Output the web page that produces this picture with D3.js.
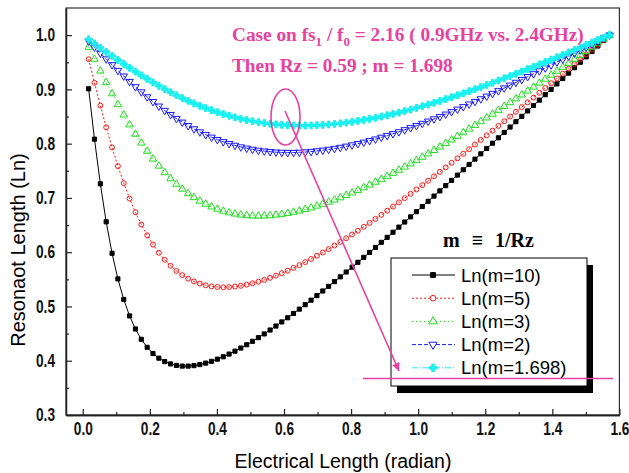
<!DOCTYPE html>
<html>
<head>
<meta charset="utf-8">
<script src="https://cdn.jsdelivr.net/npm/d3@7"></script>
<style>
    body { margin: 0; background: #fff; }
    svg { display: block; }
</style>
</head>
<body>
<div id="chart"></div>
<script>
    // electrical length theta1 in radian (1 degree steps)
    var electricalLength = [
        0.0175, 0.0349, 0.0524, 0.0698, 0.0873, 0.1047, 0.1222, 0.1396, 0.1571, 0.1745,
        0.1920, 0.2094, 0.2269, 0.2443, 0.2618, 0.2793, 0.2967, 0.3142, 0.3316, 0.3491,
        0.3665, 0.3840, 0.4014, 0.4189, 0.4363, 0.4538, 0.4712, 0.4887, 0.5061, 0.5236,
        0.5411, 0.5585, 0.5760, 0.5934, 0.6109, 0.6283, 0.6458, 0.6632, 0.6807, 0.6981,
        0.7156, 0.7330, 0.7505, 0.7679, 0.7854, 0.8029, 0.8203, 0.8378, 0.8552, 0.8727,
        0.8901, 0.9076, 0.9250, 0.9425, 0.9599, 0.9774, 0.9948, 1.0123, 1.0297, 1.0472,
        1.0647, 1.0821, 1.0996, 1.1170, 1.1345, 1.1519, 1.1694, 1.1868, 1.2043, 1.2217,
        1.2392, 1.2566, 1.2741, 1.2915, 1.3090, 1.3265, 1.3439, 1.3614, 1.3788, 1.3963,
        1.4137, 1.4312, 1.4486, 1.4661, 1.4835, 1.5010, 1.5184, 1.5359, 1.5533, 1.5708
    ];

    var lnM10 = [
        0.9011, 0.8083, 0.7260, 0.6560, 0.5980, 0.5508, 0.5129, 0.4826, 0.4585, 0.4395,
        0.4247, 0.4133, 0.4047, 0.3984, 0.3941, 0.3914, 0.3901, 0.3901, 0.3910, 0.3929,
        0.3956, 0.3989, 0.4029, 0.4073, 0.4123, 0.4176, 0.4234, 0.4295, 0.4358, 0.4425,
        0.4494, 0.4566, 0.4639, 0.4715, 0.4792, 0.4871, 0.4951, 0.5033, 0.5116, 0.5200,
        0.5285, 0.5371, 0.5458, 0.5546, 0.5635, 0.5724, 0.5814, 0.5905, 0.5996, 0.6088,
        0.6181, 0.6274, 0.6368, 0.6462, 0.6556, 0.6651, 0.6746, 0.6842, 0.6938, 0.7034,
        0.7130, 0.7227, 0.7324, 0.7421, 0.7519, 0.7617, 0.7715, 0.7813, 0.7911, 0.8009,
        0.8108, 0.8207, 0.8306, 0.8405, 0.8504, 0.8603, 0.8703, 0.8802, 0.8902, 0.9001,
        0.9101, 0.9201, 0.9300, 0.9400, 0.9500, 0.9600, 0.9700, 0.9800, 0.9900, 1.0000
    ];

    var lnM5 = [
        0.9557, 0.9122, 0.8702, 0.8303, 0.7930, 0.7586, 0.7273, 0.6989, 0.6736, 0.6511,
        0.6313, 0.6140, 0.5989, 0.5859, 0.5749, 0.5655, 0.5577, 0.5513, 0.5461, 0.5421,
        0.5391, 0.5371, 0.5359, 0.5354, 0.5357, 0.5366, 0.5381, 0.5402, 0.5427, 0.5456,
        0.5490, 0.5528, 0.5569, 0.5613, 0.5660, 0.5710, 0.5763, 0.5818, 0.5875, 0.5934,
        0.5995, 0.6058, 0.6123, 0.6189, 0.6257, 0.6326, 0.6396, 0.6468, 0.6540, 0.6614,
        0.6689, 0.6765, 0.6841, 0.6919, 0.6997, 0.7076, 0.7156, 0.7236, 0.7317, 0.7399,
        0.7481, 0.7563, 0.7647, 0.7730, 0.7814, 0.7899, 0.7984, 0.8069, 0.8154, 0.8240,
        0.8327, 0.8413, 0.8500, 0.8587, 0.8674, 0.8762, 0.8849, 0.8937, 0.9025, 0.9113,
        0.9202, 0.9290, 0.9379, 0.9467, 0.9556, 0.9645, 0.9733, 0.9822, 0.9911, 1.0000
    ];

    var lnM3 = [
        0.9778, 0.9558, 0.9341, 0.9128, 0.8922, 0.8722, 0.8531, 0.8349, 0.8176, 0.8014,
        0.7861, 0.7719, 0.7588, 0.7467, 0.7356, 0.7255, 0.7164, 0.7081, 0.7008, 0.6943,
        0.6886, 0.6836, 0.6794, 0.6758, 0.6728, 0.6706, 0.6688, 0.6676, 0.6669, 0.6667,
        0.6669, 0.6675, 0.6686, 0.6700, 0.6717, 0.6738, 0.6762, 0.6789, 0.6819, 0.6852,
        0.6887, 0.6924, 0.6963, 0.7005, 0.7048, 0.7094, 0.7141, 0.7190, 0.7240, 0.7292,
        0.7345, 0.7400, 0.7456, 0.7513, 0.7571, 0.7630, 0.7690, 0.7752, 0.7814, 0.7877,
        0.7941, 0.8006, 0.8071, 0.8137, 0.8204, 0.8271, 0.8339, 0.8408, 0.8477, 0.8546,
        0.8616, 0.8687, 0.8758, 0.8829, 0.8900, 0.8972, 0.9044, 0.9117, 0.9190, 0.9263,
        0.9336, 0.9409, 0.9483, 0.9556, 0.9630, 0.9704, 0.9778, 0.9852, 0.9926, 1.0000
    ];

    var lnM2 = [
        0.9889, 0.9778, 0.9668, 0.9560, 0.9453, 0.9348, 0.9245, 0.9144, 0.9047, 0.8953,
        0.8862, 0.8774, 0.8691, 0.8611, 0.8535, 0.8463, 0.8395, 0.8331, 0.8272, 0.8216,
        0.8165, 0.8118, 0.8074, 0.8035, 0.8000, 0.7968, 0.7939, 0.7915, 0.7895, 0.7877,
        0.7863, 0.7852, 0.7844, 0.7839, 0.7836, 0.7837, 0.7841, 0.7846, 0.7855, 0.7866,
        0.7879, 0.7894, 0.7911, 0.7930, 0.7952, 0.7975, 0.8000, 0.8026, 0.8055, 0.8084,
        0.8116, 0.8149, 0.8183, 0.8218, 0.8255, 0.8293, 0.8332, 0.8372, 0.8414, 0.8456,
        0.8499, 0.8543, 0.8588, 0.8634, 0.8680, 0.8728, 0.8776, 0.8825, 0.8874, 0.8924,
        0.8974, 0.9025, 0.9077, 0.9129, 0.9181, 0.9234, 0.9287, 0.9341, 0.9395, 0.9449,
        0.9503, 0.9558, 0.9613, 0.9668, 0.9723, 0.9778, 0.9833, 0.9889, 0.9944, 1.0000
    ];

    var lnM1698 = [
        0.9922, 0.9845, 0.9768, 0.9692, 0.9617, 0.9542, 0.9469, 0.9398, 0.9328, 0.9259,
        0.9193, 0.9128, 0.9066, 0.9006, 0.8948, 0.8893, 0.8841, 0.8790, 0.8743, 0.8698,
        0.8656, 0.8617, 0.8580, 0.8546, 0.8514, 0.8485, 0.8459, 0.8436, 0.8415, 0.8397,
        0.8380, 0.8367, 0.8356, 0.8347, 0.8341, 0.8336, 0.8334, 0.8334, 0.8336, 0.8340,
        0.8346, 0.8354, 0.8364, 0.8375, 0.8388, 0.8403, 0.8419, 0.8437, 0.8457, 0.8477,
        0.8500, 0.8523, 0.8548, 0.8574, 0.8601, 0.8629, 0.8659, 0.8689, 0.8721, 0.8753,
        0.8787, 0.8821, 0.8856, 0.8892, 0.8928, 0.8966, 0.9004, 0.9043, 0.9082, 0.9122,
        0.9163, 0.9204, 0.9245, 0.9287, 0.9330, 0.9373, 0.9416, 0.9460, 0.9503, 0.9548,
        0.9592, 0.9637, 0.9682, 0.9727, 0.9772, 0.9818, 0.9863, 0.9909, 0.9954, 1.0000
    ];

    var seriesLabels = ["Ln(m=10)", "Ln(m=5)", "Ln(m=3)", "Ln(m=2)", "Ln(m=1.698)"];
    var xTickValues = [0.0, 0.2, 0.4, 0.6, 0.8, 1.0, 1.2, 1.4, 1.6];
    var xMinorValues = [0.1, 0.3, 0.5, 0.7, 0.9, 1.1, 1.3, 1.5];
    var yTickValues = [0.3, 0.4, 0.5, 0.6, 0.7, 0.8, 0.9, 1.0];
    var yMinorValues = [0.35, 0.45, 0.55, 0.65, 0.75, 0.85, 0.95];

    var width = 629, height = 473;
    var pink = "#e8409f";

    var styles = [
        {color: "#000000", dash: null, symbol: d3.symbolSquare, size: 17, fill: "#000000", rotate: 0},
        {color: "#ff1a1a", dash: "2,2", symbol: d3.symbolCircle, size: 19, fill: "none", rotate: 0},
        {color: "#1ee01e", dash: "1,3", symbol: d3.symbolTriangle, size: 24, fill: "none", rotate: 0},
        {color: "#1a1aff", dash: "4,2", symbol: d3.symbolTriangle, size: 24, fill: "none", rotate: 180},
        {color: "#19f0f0", dash: "6,2,1,2", symbol: d3.symbolCross, size: 26, fill: "#19f0f0", rotate: 0}
    ];

    var seriesValues = [lnM10, lnM5, lnM3, lnM2, lnM1698];

    var svg = d3.select("#chart").append("svg")
        .attr("width", width)
        .attr("height", height);

    var x = d3.scaleLinear().domain([-0.05, 1.6]).range([66, 619.4]);
    var y = d3.scaleLinear().domain([0.3, 1.05]).range([415, 8]);

    // frame
    svg.append("rect")
        .attr("x", x.range()[0]).attr("y", y.range()[1])
        .attr("width", x.range()[1] - x.range()[0])
        .attr("height", y.range()[0] - y.range()[1])
        .attr("fill", "none").attr("stroke", "#333").attr("stroke-width", 1.2);

    // axes, ticks pointing inward
    svg.append("g")
        .attr("transform", "translate(0," + y.range()[0] + ")")
        .call(d3.axisBottom(x).tickValues(xTickValues).tickSizeInner(-6).tickSizeOuter(0).tickPadding(7)
            .tickFormat(d3.format(".1f")));
    svg.append("g")
        .attr("transform", "translate(0," + y.range()[0] + ")")
        .call(d3.axisBottom(x).tickValues(xMinorValues).tickSizeInner(-3).tickSizeOuter(0).tickFormat(""));

    var yAxis = svg.append("g")
        .attr("transform", "translate(" + x.range()[0] + ",0)")
        .call(d3.axisLeft(y).tickValues(yTickValues).tickSizeInner(-6).tickSizeOuter(0).tickPadding(10)
            .tickFormat(d3.format(".1f")));
    svg.append("g")
        .attr("transform", "translate(" + x.range()[0] + ",0)")
        .call(d3.axisLeft(y).tickValues(yMinorValues).tickSizeInner(-3).tickSizeOuter(0).tickFormat(""));

    svg.selectAll(".domain").attr("stroke", "#222").attr("stroke-width", 1.3);
    svg.selectAll(".tick line").attr("stroke", "#222").attr("stroke-width", 1.2);
    // narrow bold tick labels
    svg.selectAll(".tick text")
        .attr("font-family", "'Liberation Sans', Arial, sans-serif")
        .attr("font-weight", "bold")
        .attr("font-size", 18)
        .attr("fill", "#111")
        .attr("transform", "scale(0.76,1)");
    yAxis.selectAll(".tick text").attr("x", -14.5);

    // axis titles
    svg.append("text")
        .attr("x", 343).attr("y", 468)
        .attr("text-anchor", "middle")
        .attr("font-family", "'Liberation Sans', Arial, sans-serif")
        .attr("font-size", 19.5)
        .text("Electrical Length (radian)");

    svg.append("text")
        .attr("transform", "translate(25,250) rotate(-90)")
        .attr("text-anchor", "middle")
        .attr("font-family", "'Liberation Sans', Arial, sans-serif")
        .attr("font-size", 20)
        .text("Resonaot Length (Ln)");

    // series
    var line = d3.line()
        .x(function (d) { return x(d[0]); })
        .y(function (d) { return y(d[1]); });

    seriesValues.forEach(function (vals, i) {
        var st = styles[i];
        var pts = electricalLength.map(function (t, j) { return [t, vals[j]]; });
        var g = svg.append("g").attr("class", "series");
        g.append("path")
            .datum(pts)
            .attr("d", line)
            .attr("fill", "none")
            .attr("stroke", st.color)
            .attr("stroke-width", 1)
            .attr("stroke-dasharray", st.dash);
        g.selectAll("path.mark")
            .data(pts)
            .enter().append("path")
            .attr("class", "mark")
            .attr("d", d3.symbol().type(st.symbol).size(st.size))
            .attr("transform", function (d) {
                return "translate(" + x(d[0]) + "," + y(d[1]) + ") rotate(" + st.rotate + ")";
            })
            .attr("fill", st.fill)
            .attr("stroke", st.color)
            .attr("stroke-width", 1);
    });

    // legend
    var legend = svg.append("g").attr("transform", "translate(391,258)");
    legend.append("rect")
        .attr("x", 6).attr("y", 7).attr("width", 196).attr("height", 128)
        .attr("fill", "#000");
    legend.append("rect")
        .attr("x", 0).attr("y", 0).attr("width", 196).attr("height", 128)
        .attr("fill", "#fff").attr("stroke", "#000").attr("stroke-width", 1);

    seriesLabels.forEach(function (label, i) {
        var st = styles[i];
        var row = legend.append("g").attr("transform", "translate(0," + (17 + i * 23.2) + ")");
        row.append("line")
            .attr("x1", 21).attr("x2", 64).attr("y1", 0).attr("y2", 0)
            .attr("stroke", st.color).attr("stroke-width", 1)
            .attr("stroke-dasharray", st.dash);
        row.append("path")
            .attr("d", d3.symbol().type(st.symbol).size(st.size + 6))
            .attr("transform", "translate(42,0) rotate(" + st.rotate + ")")
            .attr("fill", st.fill === "none" ? "#fff" : st.fill)
            .attr("stroke", st.color);
        row.append("text")
            .attr("x", 70).attr("y", 6.5)
            .attr("font-family", "'Liberation Sans', Arial, sans-serif")
            .attr("font-size", 18.5)
            .text(label);
    });

    // annotations
    var note = svg.append("text")
        .attr("x", 232).attr("y", 41)
        .attr("font-family", "'Liberation Serif', 'Times New Roman', serif")
        .attr("font-weight", "bold")
        .attr("font-size", 19.3)
        .attr("fill", pink);
    note.append("tspan").text("Case on fs");
    note.append("tspan").attr("font-size", 13).attr("dy", 5).text("1");
    note.append("tspan").attr("dy", -5).text(" / f");
    note.append("tspan").attr("font-size", 13).attr("dy", 5).text("0");
    note.append("tspan").attr("dy", -5).text(" = 2.16 ( 0.9GHz vs. 2.4GHz)");

    svg.append("text")
        .attr("x", 232).attr("y", 72)
        .attr("font-family", "'Liberation Serif', 'Times New Roman', serif")
        .attr("font-weight", "bold")
        .attr("font-size", 19.3)
        .attr("fill", pink)
        .text("Then Rz = 0.59 ; m = 1.698");

    svg.append("text")
        .attr("x", 443).attr("y", 247)
        .attr("font-family", "'Liberation Serif', 'Times New Roman', serif")
        .attr("font-weight", "bold")
        .attr("font-size", 20)
        .attr("word-spacing", 7)
        .attr("fill", "#000")
        .text("m \u2261 1/Rz");

    svg.append("ellipse")
        .attr("cx", 285.5).attr("cy", 117).attr("rx", 14.5).attr("ry", 28)
        .attr("fill", "none").attr("stroke", pink).attr("stroke-width", 1.6);

    svg.append("defs").append("marker")
        .attr("id", "arrow")
        .attr("viewBox", "0 -5 10 10")
        .attr("refX", 10).attr("refY", 0)
        .attr("markerWidth", 8).attr("markerHeight", 8)
        .attr("markerUnits", "userSpaceOnUse")
        .attr("orient", "auto")
        .append("path")
        .attr("d", "M0,-5L10,0L0,5Z")
        .attr("fill", pink);

    svg.append("line")
        .attr("x1", 285).attr("y1", 111).attr("x2", 399).attr("y2", 371)
        .attr("stroke", pink).attr("stroke-width", 1.6)
        .attr("marker-end", "url(#arrow)");

    svg.append("line")
        .attr("x1", 363).attr("x2", 613).attr("y1", 378.5).attr("y2", 378.5)
        .attr("stroke", pink).attr("stroke-width", 1.6);
</script>
</body>
</html>
